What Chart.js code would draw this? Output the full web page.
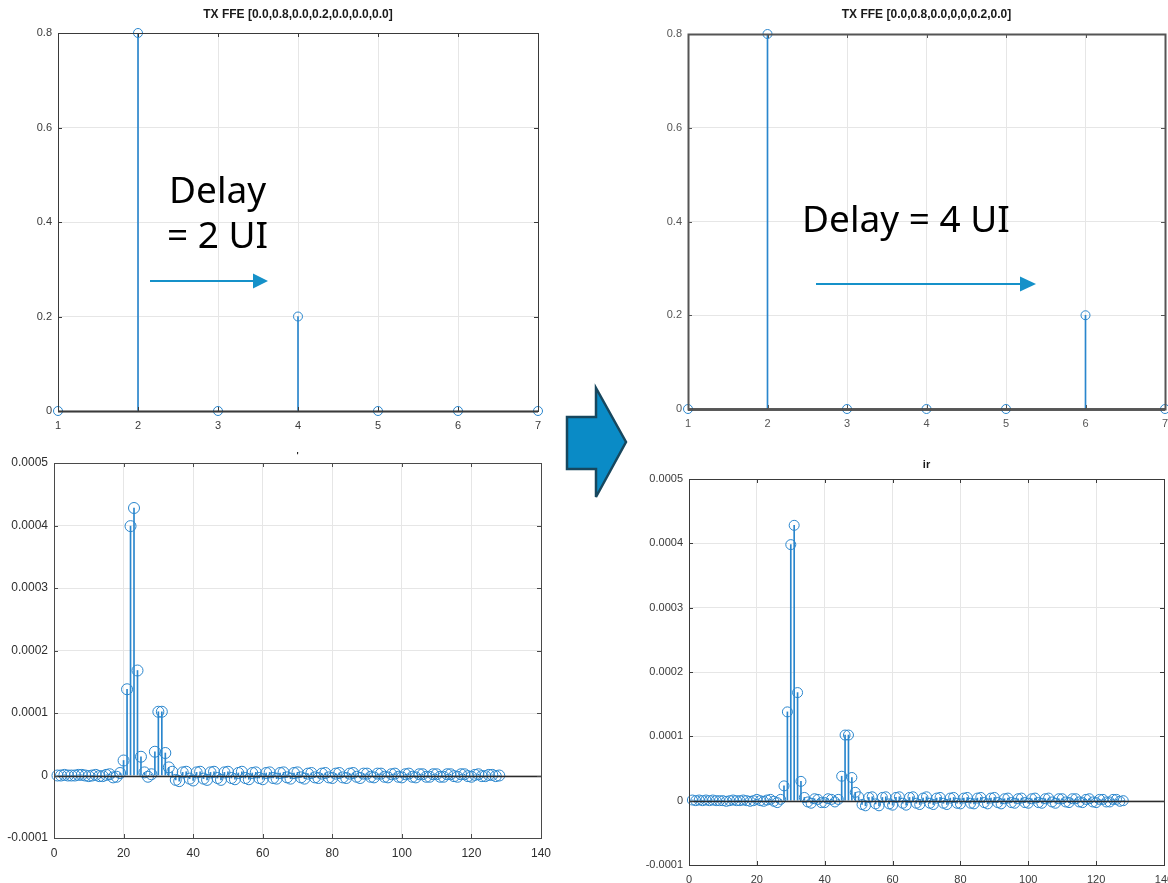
<!DOCTYPE html>
<html>
<head>
<meta charset="utf-8">
<title>TX FFE delay and impulse response</title>
<script src="https://cdn.jsdelivr.net/npm/chart.js@4/dist/chart.umd.min.js"></script>
<style>
  html, body { margin: 0; padding: 0; background: #ffffff; }
  body { width: 1168px; height: 883px; position: relative; overflow: hidden; }
  canvas.plot { position: absolute; }
  #ffeRight { filter: blur(0.6px); }
  #overlay { position: absolute; left: 0; top: 0; width: 1168px; height: 883px; pointer-events: none; }
</style>
</head>
<body>
<canvas id="ffeLeft" class="plot" width="542" height="436" style="left:8px;top:0px;"></canvas>
<canvas id="ffeRight" class="plot" width="539" height="434" style="left:638px;top:0px;"></canvas>
<canvas id="irLeft" class="plot" width="551" height="423" style="left:4px;top:440px;"></canvas>
<canvas id="irRight" class="plot" width="539" height="435" style="left:639px;top:450px;"></canvas>

<svg id="overlay" viewBox="0 0 1168 883" xmlns="http://www.w3.org/2000/svg">
  <g font-family="'Noto Sans', 'Open Sans', sans-serif" font-size="37" fill="#000">
    <text x="169" y="203">Delay</text>
    <text x="167" y="248">= 2 UI</text>
    <text x="802" y="232">Delay = 4 UI</text>
  </g>
  <g stroke="#1591c9" stroke-width="2" fill="#1591c9">
    <line x1="150" y1="281" x2="256" y2="281"/>
    <polygon points="253,273.5 268,281 253,288.5" stroke="none"/>
    <line x1="816" y1="284" x2="1022" y2="284"/>
    <polygon points="1020,276.5 1036,284 1020,291.5" stroke="none"/>
  </g>
  <polygon points="567,417 596,417 596,388 626,442 596,497 596,469 567,469"
           fill="#0a8bc6" stroke="#17475e" stroke-width="2.5" stroke-linejoin="miter"/>
</svg>

<script>
// ---- FFE tap weights (tap index 1..7) ----
const tapIndex = [1, 2, 3, 4, 5, 6, 7];
const ffeTapsDelay2 = [0.0, 0.8, 0.0, 0.2, 0.0, 0.0, 0.0];
const ffeTapsDelay4 = [0.0, 0.8, 0.0, 0.0, 0.0, 0.2, 0.0];
const ffeTitleDelay2 = 'TX FFE [0.0,0.8,0.0,0.2,0.0,0.0,0.0]';
const ffeTitleDelay4 = 'TX FFE [0.0,0.8,0.0,0,0,0.2,0.0]';

// ---- impulse response samples (sample index 1..128) ----
const irDelay2 = [
  0, 0, 1e-6, 0, 0, 0, 1e-6, 1e-6, 0, -1e-6,
  0, 1e-6, -1e-6, -1e-6, 1e-6, 2e-6, -3e-6, -2e-6, 4e-6, 2.4e-5,
  1.38e-4, 3.99e-4, 4.28e-4, 1.68e-4, 3.0e-5, 5e-6, -2e-6, 2e-6, 3.8e-5, 1.02e-4,
  1.02e-4, 3.6e-5, 1.3e-5, 6e-6, -7e-6, -9e-6, 5e-6, 6e-6, -5e-6, -8e-6,
  5e-6, 6e-6, -5e-6, -7e-6, 5e-6, 6e-6, -4e-6, -7e-6, 5e-6, 6e-6,
  -4e-6, -6e-6, 4e-6, 6e-6, -4e-6, -6e-6, 4e-6, 5e-6, -4e-6, -6e-6,
  4e-6, 5e-6, -4e-6, -5e-6, 4e-6, 5e-6, -3e-6, -5e-6, 4e-6, 5e-6,
  -3e-6, -5e-6, 3e-6, 4e-6, -3e-6, -4e-6, 3e-6, 4e-6, -3e-6, -4e-6,
  3e-6, 4e-6, -3e-6, -4e-6, 3e-6, 4e-6, -2e-6, -4e-6, 3e-6, 3e-6,
  -2e-6, -3e-6, 3e-6, 3e-6, -2e-6, -3e-6, 2e-6, 3e-6, -2e-6, -3e-6,
  2e-6, 3e-6, -2e-6, -3e-6, 2e-6, 2e-6, -2e-6, -2e-6, 2e-6, 2e-6,
  -2e-6, -2e-6, 2e-6, 2e-6, -1e-6, -2e-6, 2e-6, 2e-6, -1e-6, -2e-6,
  1e-6, 2e-6, -1e-6, -1e-6, 1e-6, 1e-6, -1e-6, 0
];
const irDelay4 = [
  1e-6, 0, 1e-6, 0, 1e-6, 0, 1e-6, 0, 0, 0,
  -1e-6, 0, 1e-6, 0, 0, 1e-6, 0, -1e-6, 0, 2e-6,
  0, -1e-6, 1e-6, 2e-6, -1e-6, -3e-6, 2e-6, 2.3e-5, 1.38e-4, 3.98e-4,
  4.28e-4, 1.68e-4, 3.0e-5, 5e-6, -2e-6, -4e-6, 3e-6, 2e-6, -3e-6, -3e-6,
  3e-6, 2e-6, -2e-6, 2e-6, 3.8e-5, 1.02e-4, 1.02e-4, 3.6e-5, 1.3e-5, 6e-6,
  -6e-6, -8e-6, 5e-6, 6e-6, -5e-6, -8e-6, 5e-6, 6e-6, -5e-6, -7e-6,
  5e-6, 6e-6, -4e-6, -7e-6, 5e-6, 6e-6, -4e-6, -6e-6, 4e-6, 6e-6,
  -4e-6, -6e-6, 4e-6, 5e-6, -4e-6, -6e-6, 4e-6, 5e-6, -4e-6, -5e-6,
  4e-6, 5e-6, -4e-6, -5e-6, 4e-6, 5e-6, -3e-6, -5e-6, 4e-6, 5e-6,
  -3e-6, -5e-6, 3e-6, 4e-6, -3e-6, -4e-6, 3e-6, 4e-6, -3e-6, -4e-6,
  3e-6, 4e-6, -3e-6, -4e-6, 3e-6, 4e-6, -2e-6, -4e-6, 3e-6, 3e-6,
  -2e-6, -3e-6, 3e-6, 3e-6, -2e-6, -3e-6, 2e-6, 3e-6, -2e-6, -3e-6,
  2e-6, 2e-6, -2e-6, -2e-6, 2e-6, 2e-6, -1e-6, 0
];

// ---- axis ticks ----
const tapTicks = [1, 2, 3, 4, 5, 6, 7];
const tapTickLabels = ['1', '2', '3', '4', '5', '6', '7'];
const ffeTicks = [0, 0.2, 0.4, 0.6, 0.8];
const ffeTickLabels = ['0', '0.2', '0.4', '0.6', '0.8'];
const sampleTicks = [0, 20, 40, 60, 80, 100, 120, 140];
const sampleTickLabels = ['0', '20', '40', '60', '80', '100', '120', '140'];
const irTicks = [-0.0001, 0, 0.0001, 0.0002, 0.0003, 0.0004, 0.0005];
const irTickLabels = ['-0.0001', '0', '0.0001', '0.0002', '0.0003', '0.0004', '0.0005'];

const STEM = '#2a86cd';

// Octave-style axes box, inward tick marks and stem baseline
const axesBox = {
  id: 'axesBox',
  afterDatasetsDraw(chart, args, opts) {
    const { ctx, chartArea: a, scales: { x, y } } = chart;
    ctx.save();
    const y0 = Math.round(y.getPixelForValue(0)) + 0.5;
    ctx.strokeStyle = opts.baseColor;
    ctx.lineWidth = opts.baseWidth;
    ctx.beginPath();
    ctx.moveTo(a.left, y0);
    ctx.lineTo(a.right, y0);
    ctx.stroke();

    ctx.strokeStyle = opts.color;
    ctx.lineWidth = opts.width;
    ctx.strokeRect(Math.round(a.left) + 0.5, Math.round(a.top) + 0.5,
                   Math.round(a.right - a.left), Math.round(a.bottom - a.top));
    ctx.lineWidth = 1;
    ctx.beginPath();
    x.ticks.forEach(t => {
      const px = Math.round(x.getPixelForValue(t.value)) + 0.5;
      ctx.moveTo(px, a.bottom); ctx.lineTo(px, a.bottom - opts.tick);
      ctx.moveTo(px, a.top); ctx.lineTo(px, a.top + opts.tick);
    });
    y.ticks.forEach(t => {
      const py = Math.round(y.getPixelForValue(t.value)) + 0.5;
      ctx.moveTo(a.left, py); ctx.lineTo(a.left + opts.tick, py);
      ctx.moveTo(a.right, py); ctx.lineTo(a.right - opts.tick, py);
    });
    ctx.stroke();
    ctx.restore();
  }
};

function stemChart(canvasId, cfg) {
  const points = cfg.xs.map((xv, i) => ({ x: xv, y: cfg.ys[i] }));
  return new Chart(document.getElementById(canvasId), {
    type: 'bar',
    data: {
      datasets: [
        {
          type: 'bar',
          data: points,
          backgroundColor: STEM,
          borderWidth: 0,
          barThickness: 1,
          grouped: false,
          order: 2
        },
        {
          type: 'line',
          data: points,
          showLine: false,
          pointStyle: 'circle',
          pointRadius: cfg.radius,
          pointBorderWidth: 1,
          pointBorderColor: STEM,
          pointBackgroundColor: 'rgba(0,0,0,0)',
          clip: false,
          order: 1
        }
      ]
    },
    options: {
      responsive: false,
      animation: false,
      events: [],
      layout: { padding: { top: 0, left: 0, bottom: 0, right: cfg.padRight } },
      plugins: {
        legend: { display: false },
        tooltip: { enabled: false },
        title: {
          display: true,
          fullSize: false,
          text: cfg.title,
          color: '#1a1a1a',
          font: { family: "'Liberation Sans', Arial, sans-serif", size: cfg.titleSize, weight: 'bold', lineHeight: 1 },
          padding: { top: cfg.titleTop, bottom: cfg.titleBottom }
        },
        axesBox: { color: cfg.boxColor, width: cfg.boxWidth, baseColor: '#2b2b2b', baseWidth: cfg.baseWidth, tick: 4 }
      },
      scales: {
        x: {
          type: 'linear',
          min: cfg.xTicks[0],
          max: cfg.xTicks[cfg.xTicks.length - 1],
          offset: false,
          border: { display: false },
          grid: { color: '#e6e6e6', lineWidth: 1, drawTicks: false, offset: false },
          afterBuildTicks: s => { s.ticks = cfg.xTicks.map(v => ({ value: v })); },
          afterFit: s => { s.height = cfg.xAxisHeight; s.paddingLeft = 0; s.paddingRight = 0; },
          ticks: {
            autoSkip: false, maxRotation: 0, minRotation: 0, padding: 8,
            color: cfg.labelColor,
            font: { family: "'Liberation Sans', Arial, sans-serif", size: cfg.labelSize },
            callback: (v, i) => cfg.xLabels[i]
          }
        },
        y: {
          type: 'linear',
          min: cfg.yTicks[0],
          max: cfg.yTicks[cfg.yTicks.length - 1],
          border: { display: false },
          grid: { color: '#e6e6e6', lineWidth: 1, drawTicks: false },
          afterBuildTicks: s => { s.ticks = cfg.yTicks.map(v => ({ value: v })); },
          afterFit: s => { s.width = 50; s.paddingTop = 0; s.paddingBottom = 0; },
          ticks: {
            autoSkip: false, padding: 6,
            color: cfg.labelColor,
            font: { family: "'Liberation Sans', Arial, sans-serif", size: cfg.labelSize },
            callback: (v, i) => cfg.yLabels[i]
          }
        }
      }
    },
    plugins: [axesBox]
  });
}

const sampleIndex = irDelay2.map((_, i) => i + 1);

stemChart('ffeLeft', {
  xs: tapIndex, ys: ffeTapsDelay2, radius: 4.5,
  title: ffeTitleDelay2, titleSize: 12, titleTop: 9, titleBottom: 12,
  xTicks: tapTicks, xLabels: tapTickLabels, yTicks: ffeTicks, yLabels: ffeTickLabels,
  xAxisHeight: 25, padRight: 12, labelColor: '#3a3a3a', labelSize: 11,
  boxColor: '#3a3a3a', boxWidth: 1, baseWidth: 2
});

stemChart('ffeRight', {
  xs: tapIndex, ys: ffeTapsDelay4, radius: 4.5,
  title: ffeTitleDelay4, titleSize: 12, titleTop: 9, titleBottom: 13,
  xTicks: tapTicks, xLabels: tapTickLabels, yTicks: ffeTicks, yLabels: ffeTickLabels,
  xAxisHeight: 25, padRight: 12, labelColor: '#555555', labelSize: 11,
  boxColor: '#555555', boxWidth: 2, baseWidth: 2.5
});

stemChart('irLeft', {
  xs: sampleIndex, ys: irDelay2, radius: 5.5,
  title: "'", titleSize: 9, titleTop: 11, titleBottom: 3,
  xTicks: sampleTicks, xLabels: sampleTickLabels, yTicks: irTicks, yLabels: irTickLabels,
  xAxisHeight: 25, padRight: 14, labelColor: '#2e2e2e', labelSize: 12,
  boxColor: '#4a4a4a', boxWidth: 1, baseWidth: 1.5
});

stemChart('irRight', {
  xs: sampleIndex, ys: irDelay4, radius: 5,
  title: 'ir', titleSize: 11, titleTop: 9, titleBottom: 9,
  xTicks: sampleTicks, xLabels: sampleTickLabels, yTicks: irTicks, yLabels: irTickLabels,
  xAxisHeight: 20, padRight: 14, labelColor: '#3a3a3a', labelSize: 11,
  boxColor: '#3a3a3a', boxWidth: 1, baseWidth: 1.5
});
</script>
</body>
</html>
